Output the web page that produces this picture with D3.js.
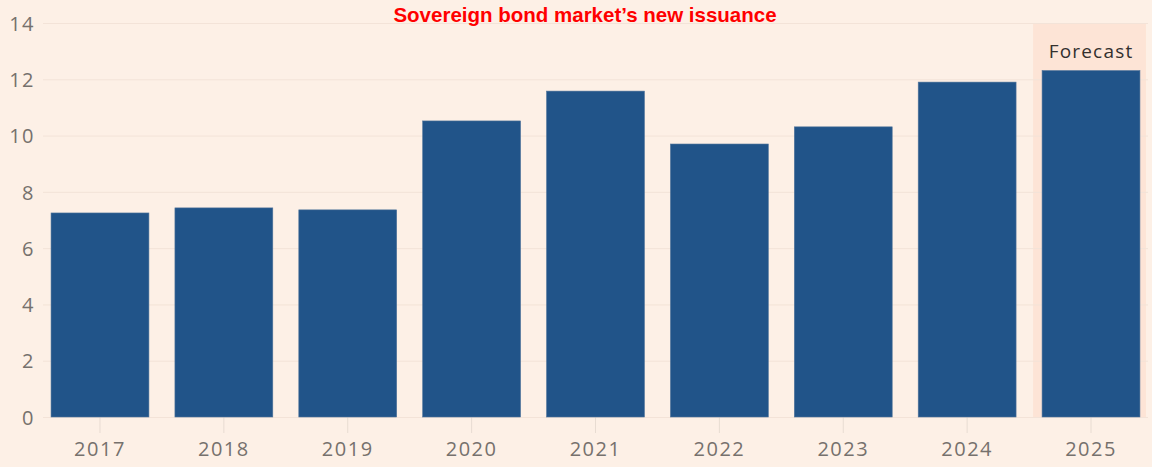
<!DOCTYPE html>
<html>
<head>
<meta charset="utf-8">
<script src="https://cdn.jsdelivr.net/npm/d3@7"></script>
<style>
  body { margin: 0; background: #fff; }
  svg { display: block; }
</style>
</head>
<body>
<div id="chart"></div>
<script>
// values (trillions)
var years = ['2017', '2018', '2019', '2020', '2021', '2022', '2023', '2024', '2025'];
var issuance = [7.25, 7.43, 7.36, 10.52, 11.58, 9.70, 10.31, 11.9, 12.31];
var yTicks = [0, 2, 4, 6, 8, 10, 12, 14];
var forecastYears = ['2025'];

var svgWidth = 1152;
var svgHeight = 471;
var margin = { left: 43, right: 4, top: 23, bottom: 54 };
var width = svgWidth - margin.left - margin.right;
var height = svgHeight - margin.top - margin.bottom;

var svg = d3.select('#chart').append('svg')
  .attr('width', svgWidth)
  .attr('height', svgHeight);

svg.append('rect')
  .attr('width', svgWidth)
  .attr('height', 467)
  .attr('fill', '#fdf0e6');

var g = svg.append('g')
  .attr('transform', 'translate(' + margin.left + ', ' + margin.top + ')');

var xScale = d3.scaleBand()
  .domain(years)
  .range([0, width])
  .paddingInner(0.21)
  .paddingOuter(0.065);
var yScale = d3.scaleLinear()
  .domain([0, 14])
  .range([height, 0]);

// forecast shading
var step = xScale.step();
var gap = step - xScale.bandwidth();
g.selectAll('.forecast')
  .data(forecastYears)
  .enter().append('rect')
  .attr('class', 'forecast')
  .attr('x', function (d) { return xScale(d) - gap / 2 + 4; })
  .attr('y', yScale(14))
  .attr('width', xScale.bandwidth() + gap / 2 + 2)
  .attr('height', yScale(0) - yScale(14))
  .attr('fill', '#fde4d6');

// gridlines + y labels
var yAxis = d3.axisLeft(yScale)
  .tickValues(yTicks)
  .tickSize(-width)
  .tickFormat(d3.format('d'));
var yG = g.append('g').call(yAxis);
yG.select('.domain').remove();
yG.selectAll('line').attr('stroke', '#f3e3d8').attr('stroke-width', 1);
yG.selectAll('text')
  .attr('x', -8)
  .attr('dy', '0.36em')
  .attr('fill', '#76716d')
  .style('font-family', '"Open Sans", sans-serif')
  .style('font-size', '20px')
  .style('letter-spacing', '1.5px');

// x axis
var xAxis = d3.axisBottom(xScale).tickSize(16).tickPadding(9);
var xG = g.append('g')
  .attr('transform', 'translate(0, ' + height + ')')
  .call(xAxis);
xG.select('.domain').remove();
xG.selectAll('line').attr('stroke', '#e8dcd2');
xG.selectAll('text')
  .attr('fill', '#76716d')
  .style('font-family', '"Open Sans", sans-serif')
  .style('font-size', '20px')
  .style('letter-spacing', '1.5px');

// bars
g.selectAll('.bar')
  .data(issuance)
  .enter().append('rect')
  .attr('class', 'bar')
  .attr('x', function (d, i) { return xScale(years[i]); })
  .attr('y', function (d) { return yScale(d); })
  .attr('width', xScale.bandwidth())
  .attr('height', function (d) { return yScale(0) - yScale(d); })
  .attr('fill', '#215489')
  .attr('stroke', '#4f739a')
  .attr('stroke-width', 0.6);

// forecast label
g.selectAll('.forecast-label')
  .data(forecastYears)
  .enter().append('text')
  .attr('x', function (d) { return xScale(d) + xScale.bandwidth() / 2; })
  .attr('y', 35)
  .attr('text-anchor', 'middle')
  .attr('fill', '#33302e')
  .style('font-family', '"Open Sans", sans-serif')
  .style('font-size', '19px')
  .style('letter-spacing', '1.2px')
  .text('Forecast');

// title
svg.append('text')
  .attr('x', 585)
  .attr('y', 22)
  .attr('text-anchor', 'middle')
  .attr('fill', '#ff0000')
  .style('font-family', '"Liberation Sans", Arial, sans-serif')
  .style('font-weight', 'bold')
  .style('font-size', '20.5px')
  .text('Sovereign bond market\u2019s new issuance');
</script>
</body>
</html>
